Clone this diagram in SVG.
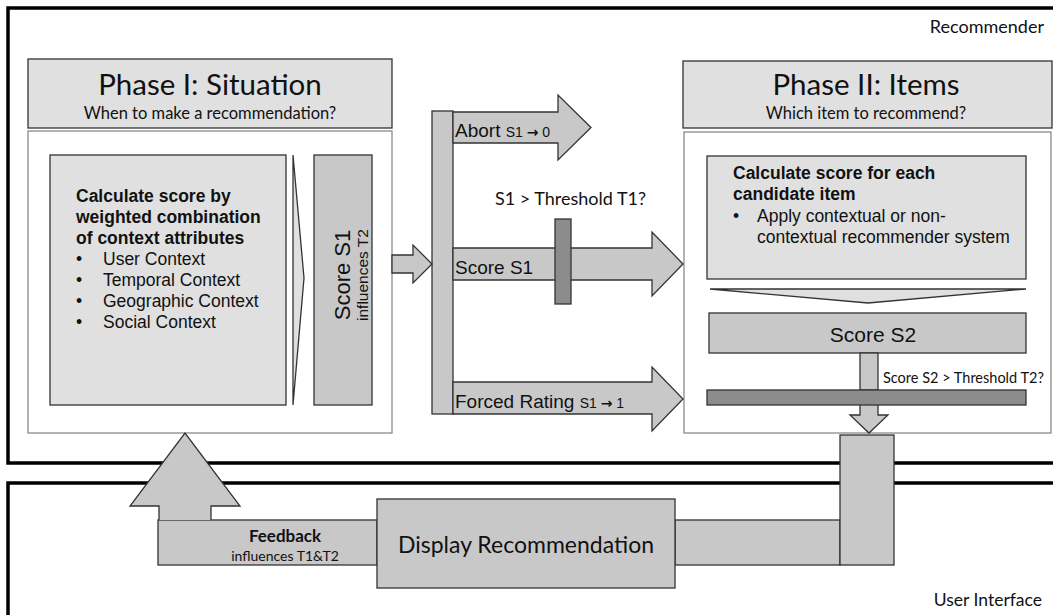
<svg xmlns="http://www.w3.org/2000/svg" width="1053" height="615" viewBox="0 0 1053 615">
<style>
.frame{fill:none;stroke:#000;stroke-width:3.5}
.head{fill:#e0e0e0;stroke:#333;stroke-width:1.3}
.body{fill:#fff;stroke:#808080;stroke-width:1.2}
.light{fill:#e0e0e0;stroke:#333;stroke-width:1.3}
.mid{fill:#c8c8c8;stroke:#333;stroke-width:1.3}
.dark{fill:#8c8c8c;stroke:#333;stroke-width:1.3}
.cal{font-family:Lato,"Open Sans",sans-serif;fill:#111}
.ar{font-family:"Liberation Sans",Arial,sans-serif;fill:#111}
.arrow{font-family:"DejaVu Sans",sans-serif;font-weight:bold}
.b{font-weight:bold}
</style>
<rect width="1053" height="615" fill="#fff"/>
<g id="recommender">
<rect class="frame" x="8" y="8" width="1060" height="455"/>
<text class="cal" x="1044" y="33" font-size="18" text-anchor="end">Recommender</text>
</g>
<g id="user-interface">
<rect class="frame" x="8" y="483" width="1060" height="140"/>
<text class="cal" x="1042" y="606" font-size="17.5" text-anchor="end">User Interface</text>
</g>
<g id="phase1">
<rect class="head" x="28" y="59" width="364" height="69"/>
<text class="cal" x="210" y="95" font-size="29.5" text-anchor="middle">Phase I: Situation</text>
<text class="cal" x="210" y="119" font-size="16.5" text-anchor="middle">When to make a recommendation?</text>
<rect class="body" x="28" y="131" width="364" height="302"/>
</g>
<g id="context-score">
<rect class="light" x="50" y="155" width="236" height="250"/>
<text class="ar b" font-size="17.5"><tspan x="76" y="202">Calculate score by</tspan><tspan x="76" y="223">weighted combination</tspan><tspan x="76" y="244">of context attributes</tspan></text>
<text class="ar" font-size="17.5"><tspan x="76" y="265">•</tspan><tspan x="103" y="265">User Context</tspan><tspan x="76" y="286">•</tspan><tspan x="103" y="286">Temporal Context</tspan><tspan x="76" y="307">•</tspan><tspan x="103" y="307">Geographic Context</tspan><tspan x="76" y="328">•</tspan><tspan x="103" y="328">Social Context</tspan></text>
</g>
<g id="chevron1">
<path class="light" d="M293,155 L304,278 L293,405 Z"/>
</g>
<g id="score-s1">
<rect class="mid" x="314" y="155" width="58" height="250"/>
<text class="ar" font-size="22" text-anchor="middle" transform="translate(350,275) rotate(-90)">Score S1</text>
<text class="ar" font-size="15.5" text-anchor="middle" transform="translate(368,275) rotate(-90)">influences T2</text>
</g>
<g id="decision-bar">
<rect class="mid" x="432" y="111" width="21" height="303"/>
</g>
<g id="phase2">
<rect class="head" x="683" y="61" width="369" height="67"/>
<text class="cal" x="866" y="95" font-size="29.5" text-anchor="middle">Phase II: Items</text>
<text class="cal" x="866" y="119" font-size="16.5" text-anchor="middle">Which item to recommend?</text>
<rect class="body" x="684" y="132" width="367" height="301"/>
</g>
<g id="item-score">
<rect class="light" x="707" y="156" width="319" height="123"/>
<text class="ar b" font-size="17.5"><tspan x="733" y="179">Calculate score for each</tspan><tspan x="733" y="200">candidate item</tspan></text>
<text class="ar" font-size="17.5"><tspan x="733" y="222">•</tspan><tspan x="757" y="222">Apply contextual or non-</tspan><tspan x="757" y="243">contextual recommender system</tspan></text>
</g>
<g id="chevron2">
<path class="light" d="M710,289 H1026 L868,303 Z"/>
</g>
<g id="score-s2">
<rect class="mid" x="709" y="313" width="317" height="40"/>
<text class="ar" x="873" y="342" font-size="21" text-anchor="middle">Score S2</text>
</g>
<g id="connectors">
<path class="mid" d="M392,255 H413 V245 L432,264 L413,283 V273 H392 Z"/>
<path class="mid" d="M453,112 H558 V95 L591,127.5 L558,160 V143 H453 Z"/>
<path class="mid" d="M453,248 H652 V232 L683,264 L652,296 V280 H453 Z"/>
<path class="mid" d="M453,382 H652 V367 L683,399 L652,431 V414 H453 Z"/>
<rect class="mid" x="860" y="353" width="18" height="37"/>
<path class="mid" d="M860,404 V415 H850 L869,433 L888,415 H878 V404 Z"/>
<rect class="mid" x="675" y="520" width="165" height="45"/>
<rect class="mid" x="158" y="520" width="219" height="45"/>
<path class="mid" d="M159,520 V506 H130 L185,433 L240,506 H211 V520"/>
</g>
<g id="arrow-labels">
<text class="ar" x="455" y="137" font-size="19">Abort <tspan font-size="14">S1 <tspan class="arrow">→</tspan> 0</tspan></text>
<text class="ar" x="455" y="274" font-size="19">Score S1</text>
<text class="ar" x="455" y="408" font-size="19">Forced Rating <tspan font-size="14">S1 <tspan class="arrow">→</tspan> 1</tspan></text>
</g>
<g id="gate-t1">
<rect class="dark" x="555" y="219" width="16" height="85"/>
<text class="cal" x="495" y="205" font-size="18">S1 &gt; Threshold T1?</text>
</g>
<g id="gate-t2">
<rect class="dark" x="707" y="390" width="319" height="15"/>
<text class="cal" x="883" y="383" font-size="14.5">Score S2 &gt; Threshold T2?</text>
</g>
<g id="output-column">
<rect class="mid" x="840" y="435" width="54" height="130"/>
</g>
<g id="display">
<rect class="mid" x="377" y="499" width="298" height="89"/>
<text class="cal" x="526" y="553" font-size="23" text-anchor="middle">Display Recommendation</text>
</g>
<g id="feedback">
<text class="cal b" x="285" y="542" font-size="17" text-anchor="middle">Feedback</text>
<text class="cal" x="285" y="561" font-size="14" text-anchor="middle">influences T1&amp;T2</text>
</g>
</svg>
